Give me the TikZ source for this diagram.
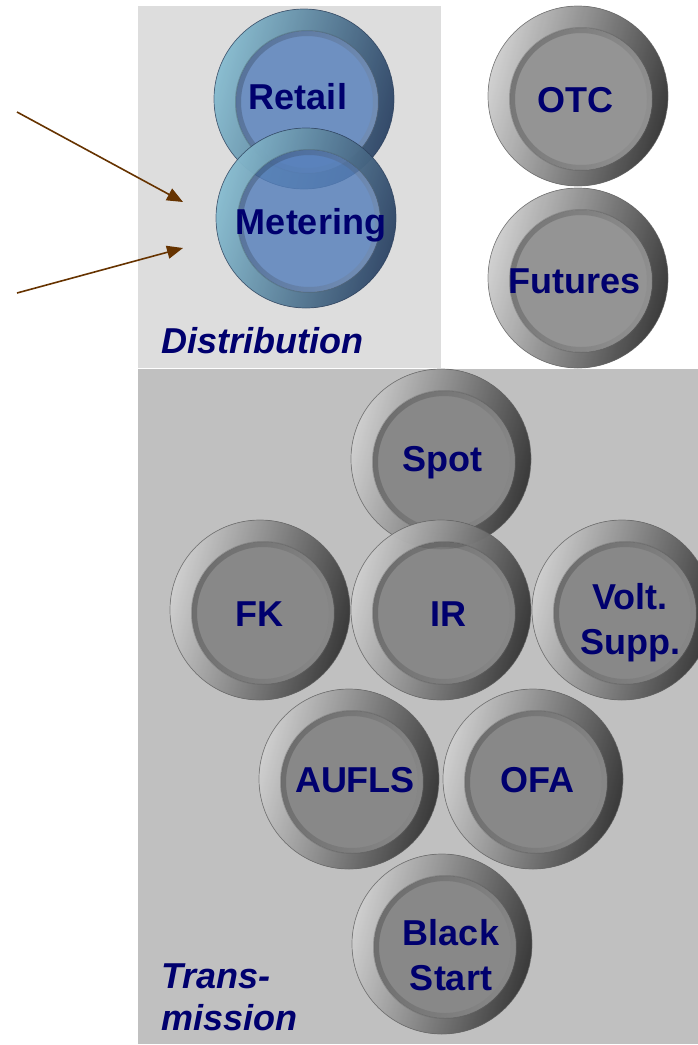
\documentclass[tikz,border=0pt]{standalone}
\usepackage{fontspec}
\setmainfont{Liberation Sans}
\usepackage{tikz}
\usetikzlibrary{arrows.meta}
\definecolor{labelnavy}{RGB}{0,0,110}
\definecolor{feedbrown}{RGB}{102,51,0}
\definecolor{distgray}{RGB}{221,221,221}
\definecolor{transgray}{RGB}{192,192,192}
\definecolor{facegray}{RGB}{124,124,124}
\definecolor{faceblue}{RGB}{86,128,187}
\definecolor{rimcyan}{RGB}{160,222,245}

\tikzset{
  disc/.style n args={5}{circle, minimum size=180bp, inner sep=0pt,
    draw=#4, line width=.7bp, draw opacity=.7,
    path picture={
      \fill[fill opacity=.82, left color=#1, middle color=#2, right color=#3,
            shading angle=75, even odd rule]
        (path picture bounding box.center) circle[radius=90bp]
        ([shift={(3bp,-3bp)}]path picture bounding box.center) circle[radius=71bp];
      \fill[fill opacity=.82, #5]
        ([shift={(3bp,-3bp)}]path picture bounding box.center) circle[radius=71bp];
      % soft bevel round the face
      \fill[fill opacity=.1, left color=black, right color=white,
            shading angle=75, even odd rule]
        ([shift={(3bp,-3bp)}]path picture bounding box.center) circle[radius=72bp]
        ([shift={(3bp,-3bp)}]path picture bounding box.center) circle[radius=66bp];
    }},
  graydisc/.style={disc={white!96!black}{gray!80}{black!75}{black!60}{facegray}},
  bluedisc/.style={disc={rimcyan}{faceblue!80!white}{faceblue!65!black}{faceblue!50!black}{faceblue}},
  lbl/.style={font=\fontsize{36bp}{45bp}\selectfont\bfseries, text=labelnavy,
    inner sep=0pt, text height=26bp, text depth=0pt},
  lbltwo/.style={font=\fontsize{36bp}{45bp}\selectfont\bfseries, text=labelnavy,
    align=center, inner sep=0pt},
  grp/.style={font=\fontsize{36bp}{42bp}\selectfont\bfseries\itshape, text=labelnavy,
    align=left, inner sep=0pt},
  feed/.style={draw=feedbrown, line width=1.6bp, -{Triangle[length=16bp,width=13bp]}},
}

\begin{document}
\begin{tikzpicture}[x=1bp,y=-1bp]
\path[use as bounding box] (0,0) rectangle (698,1045);
% group areas
\fill[distgray] (138,6) rectangle (441,368);
\fill[transgray] (138,369) rectangle (698,1044);

% discs
\node[bluedisc] (retail) at (304,99) {};
\node[bluedisc] (metering) at (306,218) {};
\node[graydisc] (otc) at (578,96) {};
\node[graydisc] (futures) at (578,278) {};
\node[graydisc] (spot) at (441,459) {};
\node[graydisc] (fk) at (260,610) {};
\node[graydisc] (ir) at (441,610) {};
\node[graydisc] (volt) at (622,610) {};
\node[graydisc] (aufls) at (349,779) {};
\node[graydisc] (ofa) at (533,779) {};
\node[graydisc] (black) at (442,944) {};

% labels
\node[lbl] (retail-t) at (298,96) {Retail};
\node[lbl] (metering-t) at (311,221) {Metering};
\node[lbl] (otc-t) at (575,99) {OTC};
\node[lbl] (futures-t) at (575,280) {Futures};
\node[lbl] (spot-t) at (442,458) {Spot};
\node[lbl] (fk-t) at (259,613) {FK};
\node[lbl] (ir-t) at (448,613) {IR};
\node[lbltwo] (volt-t) at (630,623) {Volt.\\Supp.};
\node[lbl] (aufls-t) at (355,779) {AUFLS};
\node[lbl] (ofa-t) at (537,779) {OFA};
\node[lbltwo] (black-t) at (451,955) {Black\\Start};

\node[grp, anchor=base west] (dist) at (161,353) {Distribution};
\node[grp, anchor=north west] (trans) at (161,964) {Trans-\\mission};

% feeds into metering
\coordinate (srcA) at (17,112);
\coordinate (tipA) at (183,202);
\coordinate (srcB) at (17,293);
\coordinate (tipB) at (183,248);
\draw[feed] (srcA) -- (tipA);
\draw[feed] (srcB) -- (tipB);
\end{tikzpicture}
\end{document}
